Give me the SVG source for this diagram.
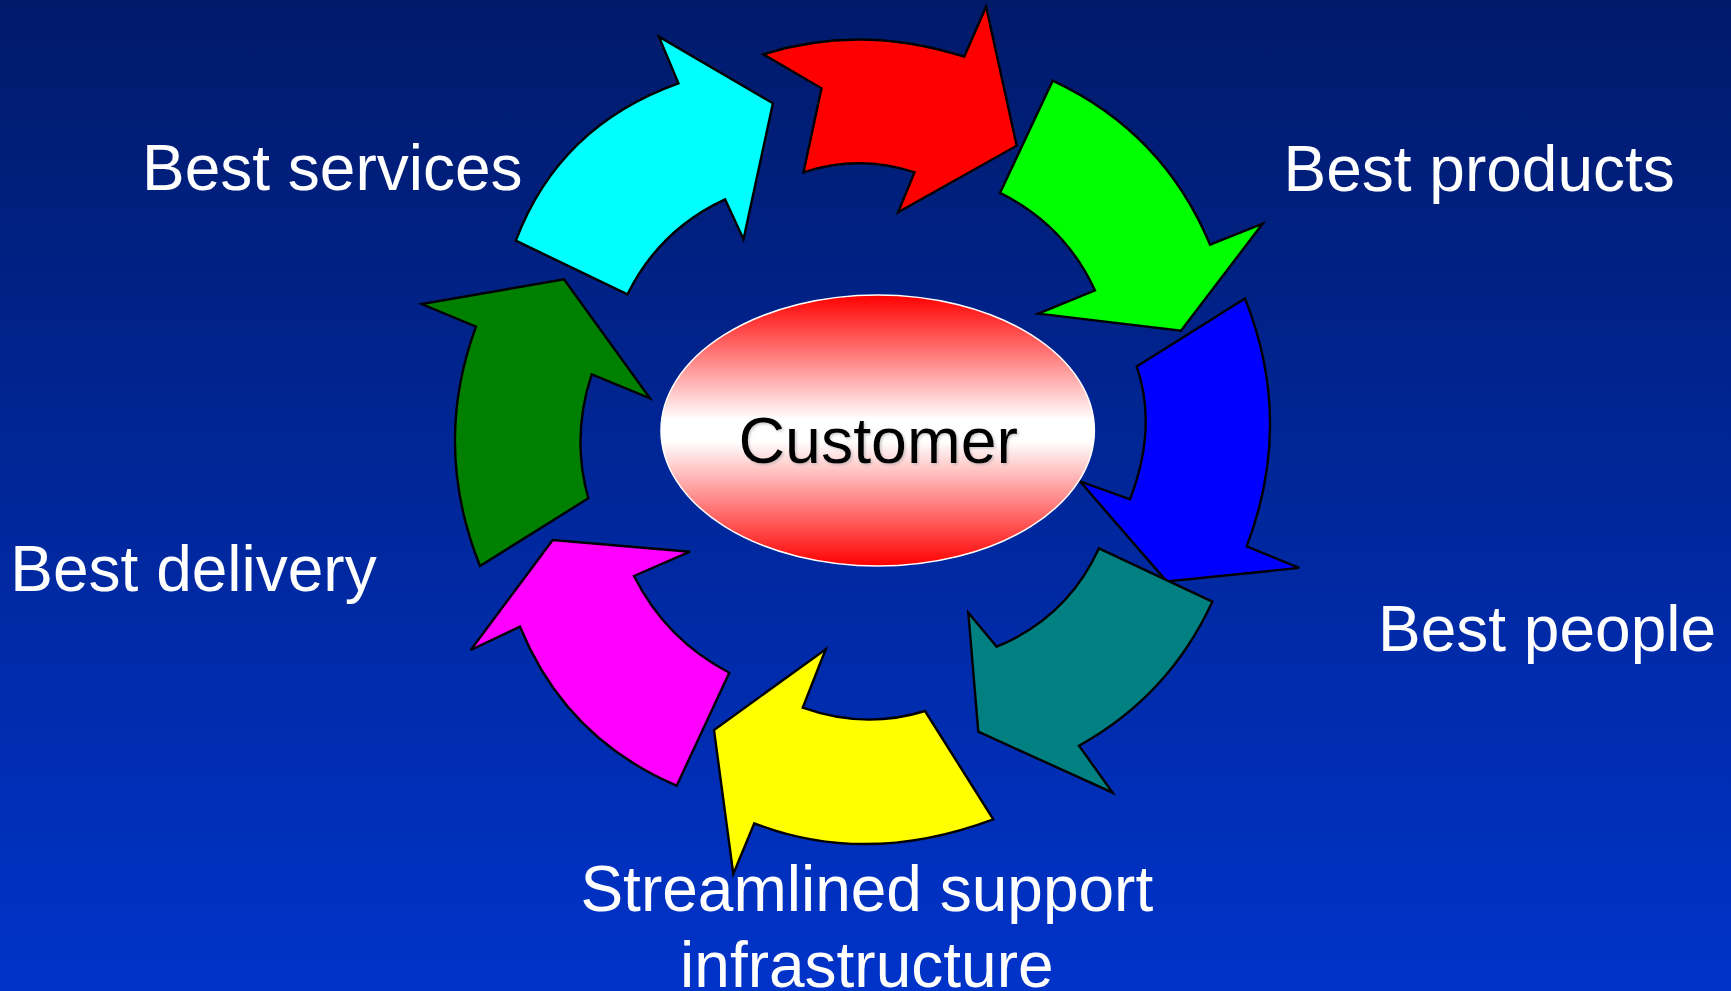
<svg xmlns="http://www.w3.org/2000/svg" width="1731" height="991" viewBox="0 0 1731 991">
  <defs>
    <linearGradient id="bg" x1="0" y1="0" x2="0" y2="1">
      <stop offset="0" stop-color="#001a6a"/>
      <stop offset="1" stop-color="#0033c9"/>
    </linearGradient>
    <linearGradient id="hub" x1="0" y1="0" x2="0" y2="1">
      <stop offset="0" stop-color="#ff0000"/>
      <stop offset="0.46" stop-color="#ffffff"/>
      <stop offset="0.54" stop-color="#ffffff"/>
      <stop offset="1" stop-color="#ff0000"/>
    </linearGradient>
    <filter id="soft" x="-10%" y="-20%" width="120%" height="140%">
      <feDropShadow dx="1.5" dy="1.5" stdDeviation="0.8" flood-color="#909090" flood-opacity="0.45"/>
    </filter>
  </defs>
  <style>
    .arrow { stroke: #000000; stroke-width: 2.4; stroke-linejoin: miter; }
    .label { font-family: "Liberation Sans", Arial, sans-serif; font-size: 64px; fill: #ffffff; }
    .hub-text { font-family: "Liberation Sans", Arial, sans-serif; font-size: 64.5px; fill: #000000; }
  </style>

  <rect x="0" y="0" width="1731" height="991" fill="url(#bg)"/>

  <!-- ring of curved block arrows -->
  <g id="connectors">
    <path id="arrow-cyan" class="arrow" fill="#00ffff"
          d="M 515.8,240.7 Q 558.9,126 678.4,83.3 L 658.9,36.7 L 772.9,103.3 L 743.5,239.3 L 725.1,199.3 Q 659.5,229.6 627.5,294.3 Z"/>
    <path id="arrow-red" class="arrow" fill="#ff0000"
          d="M 763.3,54.3 Q 860.3,23.5 964.2,56.7 L 986.1,6.7 L 1016.7,145.7 L 898.1,212.3 L 914.5,172.3 Q 859,154.3 803.5,172.3 L 821.5,88.3 Z"/>
    <path id="arrow-green" class="arrow" fill="#00ff00"
          d="M 1052.7,80.7 Q 1163.1,132.2 1210,244.6 L 1262.7,223.6 L 1181,330.7 L 1038.3,313.6 L 1095,290.4 Q 1064.7,225 1000,192.9 Z"/>
    <path id="arrow-blue" class="arrow" fill="#0000ff"
          d="M 1245,298.6 Q 1294.2,421.5 1246.7,546.4 L 1299.3,567.9 L 1166.7,581.4 L 1080,481.4 L 1130,499.3 Q 1157.7,427.2 1136.7,366.4 Z"/>
    <path id="arrow-teal" class="arrow" fill="#008080"
          d="M 1212.3,601.7 Q 1169.2,695.5 1079,745.7 L 1112.7,792.7 L 978.3,731.7 L 968.3,612.7 L 996.7,646.7 Q 1067.2,617.7 1099,548.3 Z"/>
    <path id="arrow-yellow" class="arrow" fill="#ffff00"
          d="M 993.3,819.3 Q 866.2,866.7 754.3,823.3 L 733.3,874 L 714,730 L 825.7,649.3 L 802.7,707.7 Q 864.2,729.7 925,711 Z"/>
    <path id="arrow-magenta" class="arrow" fill="#ff00ff"
          d="M 676.7,785.7 Q 565.7,738.4 520,626.7 L 470.7,650 L 552.7,540 L 690,551.7 L 634,576 Q 666,639.7 729.3,672.7 Z"/>
    <path id="arrow-darkgreen" class="arrow" fill="#008000"
          d="M 480,566 Q 432,445.7 476,326.7 L 421.7,304 L 564,279.3 L 650,398.3 L 591.7,374.3 Q 571,436.7 588.3,498.3 Z"/>
  </g>

  <!-- central hub -->
  <g id="customer">
    <ellipse cx="877.7" cy="430.5" rx="216.7" ry="135.5" fill="url(#hub)" stroke="#ffffff" stroke-width="1.5"/>
    <text class="hub-text" x="878.3" y="462.7" text-anchor="middle" filter="url(#soft)">Customer</text>
  </g>

  <g id="best-services">
    <text class="label" x="142" y="190">Best services</text>
  </g>
  <g id="best-products">
    <text class="label" x="1283.5" y="190.7">Best products</text>
  </g>
  <g id="best-people">
    <text class="label" x="1378" y="650.7">Best people</text>
  </g>
  <g id="best-delivery">
    <text class="label" x="10.3" y="590.7">Best delivery</text>
  </g>
  <g id="streamlined-support">
    <text class="label" x="866.8" y="911" text-anchor="middle">Streamlined support</text>
    <text class="label" x="866.8" y="986.5" text-anchor="middle">infrastructure</text>
  </g>
</svg>
